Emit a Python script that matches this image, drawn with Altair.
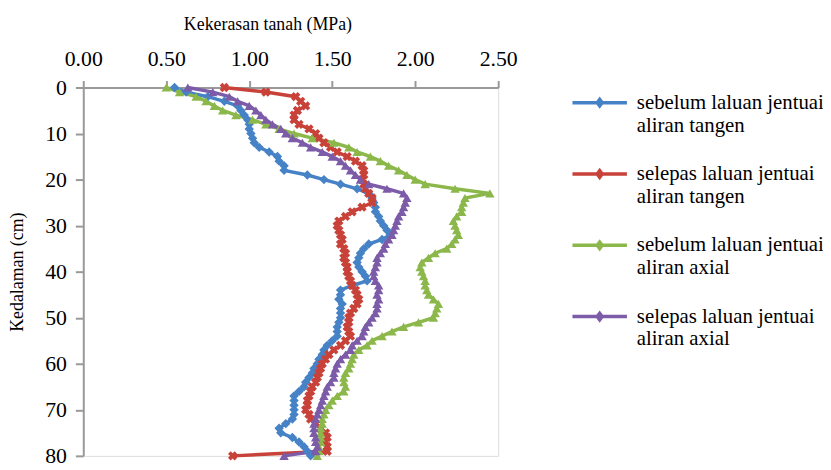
import altair as alt
import pandas as pd

depth = list(range(0, 81))

sebelum_tangen = [
    0.55, 0.62, 0.75, 0.85, 0.93, 0.95, 0.97, 0.99, 1.00, 1.00,
    1.01, 1.02, 1.03, 1.06, 1.12, 1.17, 1.18, 1.21, 1.21, 1.35,
    1.45, 1.55, 1.65, 1.72, 1.74, 1.75, 1.76, 1.76, 1.78, 1.79,
    1.81, 1.83, 1.85, 1.80, 1.72, 1.69, 1.67, 1.66, 1.65, 1.66,
    1.68, 1.70, 1.71, 1.62, 1.55, 1.55, 1.54, 1.56, 1.55, 1.55,
    1.55, 1.54, 1.53, 1.53, 1.53, 1.50, 1.47, 1.45, 1.44, 1.42,
    1.41, 1.39, 1.38, 1.36, 1.34, 1.33, 1.30, 1.27, 1.27, 1.27,
    1.27, 1.27, 1.26, 1.22, 1.18, 1.19, 1.26, 1.30, 1.33, 1.35,
    1.37]

selepas_tangen = [
    0.85, 1.10, 1.28, 1.31, 1.34, 1.29, 1.27, 1.27, 1.30, 1.36,
    1.40, 1.42, 1.45, 1.49, 1.53, 1.59, 1.64, 1.68, 1.69, 1.69,
    1.68, 1.69, 1.70, 1.72, 1.74, 1.74, 1.68, 1.62, 1.58, 1.54,
    1.53, 1.54, 1.55, 1.56, 1.55, 1.57, 1.58, 1.57, 1.58, 1.59,
    1.59, 1.60, 1.61, 1.62, 1.64, 1.65, 1.66, 1.65, 1.63, 1.61,
    1.60, 1.60, 1.59, 1.60, 1.61, 1.58, 1.55, 1.51, 1.48, 1.46,
    1.44, 1.43, 1.42, 1.41, 1.40, 1.38, 1.37, 1.36, 1.35, 1.35,
    1.34, 1.36, 1.37, 1.40, 1.43, 1.46, 1.47, 1.46, 1.47, 1.47,
    0.90]

sebelum_axial = [
    0.50, 0.58, 0.68, 0.74, 0.79, 0.84, 0.92, 1.02, 1.10, 1.18,
    1.27, 1.38, 1.51, 1.60, 1.65, 1.73, 1.79, 1.84, 1.90, 1.95,
    2.00, 2.06, 2.24, 2.45, 2.30, 2.29, 2.28, 2.28, 2.25, 2.23,
    2.24, 2.25, 2.26, 2.24, 2.22, 2.19, 2.12, 2.08, 2.04, 2.03,
    2.04, 2.05, 2.06, 2.06, 2.07, 2.08, 2.11, 2.14, 2.13, 2.12,
    2.11, 2.02, 1.93, 1.86, 1.80, 1.74, 1.71, 1.66, 1.63, 1.62,
    1.61, 1.60, 1.58, 1.57, 1.57, 1.58, 1.57, 1.53, 1.50, 1.48,
    1.46, 1.45, 1.44, 1.44, 1.43, 1.43, 1.43, 1.43, 1.42, 1.42,
    1.41]

selepas_axial = [
    0.63, 0.78, 0.88, 0.93, 1.00, 1.04, 1.07, 1.10, 1.14, 1.19,
    1.22, 1.26, 1.32, 1.37, 1.44, 1.50, 1.55, 1.58, 1.61, 1.64,
    1.67, 1.72, 1.83, 1.93, 1.95, 1.94, 1.93, 1.92, 1.90, 1.89,
    1.88, 1.87, 1.86, 1.84, 1.82, 1.81, 1.79, 1.77, 1.77, 1.76,
    1.75, 1.75, 1.76, 1.78, 1.78, 1.77, 1.78, 1.77, 1.77, 1.76,
    1.74, 1.72, 1.70, 1.69, 1.68, 1.65, 1.62, 1.61, 1.58, 1.55,
    1.53, 1.52, 1.51, 1.51, 1.49, 1.47, 1.46, 1.45, 1.44, 1.43,
    1.42, 1.41, 1.40, 1.39, 1.39, 1.39, 1.40, 1.40, 1.41, 1.40,
    1.21]

series_names = [
    "sebelum laluan jentuai|aliran tangen",
    "selepas laluan jentuai|aliran tangen",
    "sebelum laluan jentuai|aliran axial",
    "selepas laluan jentuai|aliran axial",
]
series_values = [sebelum_tangen, selepas_tangen, sebelum_axial, selepas_axial]
colors = ["#4682C6", "#C8423A", "#8CB84B", "#7C5BA8"]
shapes = ["diamond", "cross", "triangle-up", "triangle-up"]
angles = [0, 45, 0, 0]
x_ticks = [0, 0.5, 1.0, 1.5, 2.0, 2.5]
y_ticks = [0, 10, 20, 30, 40, 50, 60, 70, 80]

rows = []
for name, vals in zip(series_names, series_values):
    for d, v in zip(depth, vals):
        rows.append({"series": name, "depth": d, "value": v})
df = pd.DataFrame(rows)

FONT = "Liberation Serif"

color_scale = alt.Scale(domain=series_names, range=colors)

x_enc = alt.X(
    "value:Q",
    scale=alt.Scale(domain=[0, 2.5], nice=False),
    axis=alt.Axis(
        orient="top", values=x_ticks, format=".2f", title="Kekerasan tanah (MPa)",
        titleX=186, titleY=-59, titleAlign="center", titleBaseline="alphabetic",
        titleFont=FONT, titleFontSize=18, titleFontWeight="normal", titleColor="#000",
        labelFont=FONT, labelFontSize=22, labelColor="#000", labelPadding=10,
        labelFlush=False, labelOverlap=False,
        tickSize=7, tickWidth=2, tickColor="#999", domainColor="#999", domainWidth=2,
        grid=False,
    ),
)
y_enc = alt.Y(
    "depth:Q",
    scale=alt.Scale(domain=[0, 80], nice=False, reverse=True),
    axis=alt.Axis(
        values=y_ticks, title="Kedalaman (cm)",
        titleX=-66, titleY=186, titleAngle=-90, titleAlign="center", titleBaseline="middle",
        titleFont=FONT, titleFontSize=18, titleFontWeight="normal", titleColor="#000",
        labelFont=FONT, labelFontSize=22, labelColor="#000", labelPadding=9,
        labelFlush=False, labelOverlap=False,
        tickSize=8, tickWidth=2, tickColor="#999", domainColor="#999", domainWidth=2,
        grid=False,
    ),
)

legend = alt.Legend(
    title=None, orient="none", legendX=494, legendY=-23,
    labelExpr="split(datum.label, '|')",
    labelFont=FONT, labelFontSize=21, labelColor="#000", labelLimit=400,
    labelBaseline="top", labelOffset=10,
    symbolType="M-1,0.33L1,0.33L1,0.46L-1,0.46Z M0,0.17L0.17,0.395L0,0.62L-0.17,0.395Z",
    symbolSize=3025, symbolStrokeWidth=0,
    rowPadding=0,
)

base = alt.Chart(df)

layers = [
    base.mark_line(strokeWidth=3.5).encode(
        x=x_enc, y=y_enc,
        color=alt.Color("series:N", scale=color_scale, legend=legend),
        order=alt.Order("depth:Q"),
    )
]
for name, shp, ang in zip(series_names, shapes, angles):
    layers.append(
        base.transform_filter(alt.datum.series == name)
        .mark_point(filled=True, opacity=1, shape=shp, angle=ang, size=90)
        .encode(
            x=x_enc, y=y_enc,
            color=alt.Color("series:N", scale=color_scale, legend=legend),
        )
    )

chart = alt.layer(*layers).properties(
    width=419, height=372,
    autosize=alt.AutoSizeParams(type="none"),
    padding={"left": 76, "top": 78, "right": 328, "bottom": 12},
).configure_view(stroke=None).configure(background="white")

chart.save("out.html", embed_options={"renderer": "svg", "actions": False})
